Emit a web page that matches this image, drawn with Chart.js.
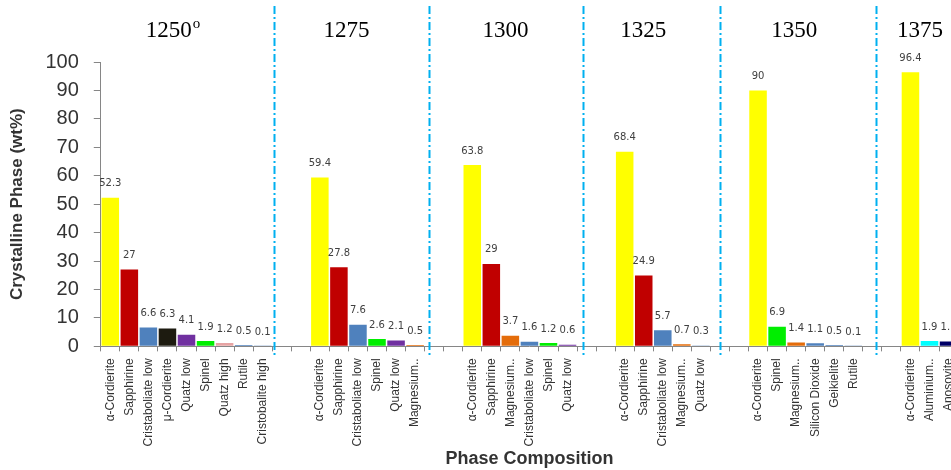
<!DOCTYPE html>
<html>
<head>
<meta charset="utf-8">
<script src="https://cdn.jsdelivr.net/npm/chart.js@4"></script>
<style>
  html, body { margin: 0; padding: 0; background: #fff; overflow: hidden; }
  #wrap { position: relative; width: 970px; height: 470px; }
</style>
</head>
<body>
<div id="wrap"><canvas id="myChart"></canvas></div>
<script>

// Phase data per firing temperature

const temps = ['1250', '1275', '1300', '1325', '1350', '1375'];

const phases1250 = ['α-Cordierite', 'Sapphirine', 'Cristaboliate low', 'μ-Cordierite', 'Quatz low', 'Spinel', 'Quatz high', 'Rutile', 'Cristobalite high'];
const values1250 = [52.3, 27, 6.6, 6.3, 4.1, 1.9, 1.2, 0.5, 0.1];

const phases1275 = ['α-Cordierite', 'Sapphirine', 'Cristaboliate low', 'Spinel', 'Quatz low', 'Magnesium..'];
const values1275 = [59.4, 27.8, 7.6, 2.6, 2.1, 0.5];

const phases1300 = ['α-Cordierite', 'Sapphirine', 'Magnesium..', 'Cristaboliate low', 'Spinel', 'Quatz low'];
const values1300 = [63.8, 29, 3.7, 1.6, 1.2, 0.6];

const phases1325 = ['α-Cordierite', 'Sapphirine', 'Cristaboliate low', 'Magnesium..', 'Quatz low'];
const values1325 = [68.4, 24.9, 5.7, 0.7, 0.3];

const phases1350 = ['α-Cordierite', 'Spinel', 'Magnesium..', 'Silicon Dioxide', 'Geikielite', 'Rutile'];
const values1350 = [90, 6.9, 1.4, 1.1, 0.5, 0.1];

const phases1375 = ['α-Cordierite', 'Aluminium..', 'Anosovite'];
const values1375 = [96.4, 1.9, 1.7];

// bar colours
const colors1250 = ['#ffff00', '#c00000', '#4f81bd', '#1d1b10', '#7030a0', '#00ee00', '#e6a3a3', '#4f81bd', '#4f81bd'];
const colors1275 = ['#ffff00', '#c00000', '#4f81bd', '#00ee00', '#7030a0', '#e46c0a'];
const colors1300 = ['#ffff00', '#c00000', '#e46c0a', '#4f81bd', '#00ee00', '#7030a0'];
const colors1325 = ['#ffff00', '#c00000', '#4f81bd', '#e46c0a', '#4f81bd'];
const colors1350 = ['#ffff00', '#00ee00', '#e46c0a', '#4f81bd', '#4f81bd', '#4f81bd'];
const colors1375 = ['#ffff00', '#00ffff', '#000066'];

const groupPhases = [phases1250, phases1275, phases1300, phases1325, phases1350, phases1375];
const groupValues = [values1250, values1275, values1300, values1325, values1350, values1375];
const groupColors = [colors1250, colors1275, colors1300, colors1325, colors1350, colors1375];

// header and divider placement, in slot units from the left of the x axis
const headerAt = [3.57, 12.9, 21.24, 28.47, 36.4, 43.0];
const dividerAt = [9.07, 17.25, 25.31, 32.5, 40.68];

// Flatten groups into one category axis, two empty slots between groups

const labels = [];
const values = [];
const colors = [];

groupPhases.forEach((list, g) => {
    list.forEach((name, i) => {
        labels.push(name);
        values.push(groupValues[g][i]);
        colors.push(groupColors[g][i]);
    });
    if (g < groupPhases.length - 1) {
        for (let k = 0; k < 2; k++) {
            labels.push('');
            values.push(null);
            colors.push('#fff');
        }
    }
});

// value above every bar
const valueLabels = {
    id: 'valueLabels',
    afterDatasetsDraw(chart) {
        const ctx = chart.ctx;
        const meta = chart.getDatasetMeta(0);
        ctx.save();
        ctx.font = "10px 'DejaVu Sans'";
        ctx.fillStyle = '#404040';
        ctx.textAlign = 'center';
        ctx.textBaseline = 'bottom';
        meta.data.forEach((bar, i) => {
            const v = values[i];
            if (v === null) return;
            ctx.fillText(String(v), bar.x, bar.y - 9);
        });
        ctx.restore();
    }
};

// temperature headers and dash-dot dividers
const groupDecor = {
    id: 'groupDecor',
    afterDraw(chart) {
        const ctx = chart.ctx;
        const xs = chart.scales.x;
        const slot = xs.width / labels.length;
        ctx.save();

        ctx.strokeStyle = '#00b0f0';
        ctx.lineWidth = 2;
        ctx.setLineDash([8, 3, 2, 3]);
        dividerAt.forEach(s => {
            const x = Math.round(xs.left + s * slot) + 0.5;
            ctx.beginPath();
            ctx.moveTo(x, 6);
            ctx.lineTo(x, 358);
            ctx.stroke();
        });
        ctx.setLineDash([]);

        ctx.fillStyle = '#000';
        ctx.textBaseline = 'middle';
        ctx.textAlign = 'center';
        temps.forEach((t, g) => {
            const x = xs.left + headerAt[g] * slot;
            ctx.font = "23px 'Liberation Serif'";
            ctx.fillText(t, x, 31);
            if (g === 0) {
                const w = ctx.measureText(t).width;
                ctx.font = "15px 'Liberation Serif'";
                ctx.textAlign = 'left';
                ctx.fillText('o', x + w / 2 + 1, 24);
                ctx.textAlign = 'center';
            }
        });
        ctx.restore();
    }
};

const ctx = document.getElementById('myChart');

const myChart = new Chart(ctx, {
    type: 'bar',
    data: {
        labels: labels,
        datasets: [{
            data: values,
            backgroundColor: colors,
            borderWidth: 0,
            barPercentage: 0.92,
            categoryPercentage: 1
        }]
    },
    options: {
        responsive: true,
        maintainAspectRatio: false,
        animation: false,
        layout: {
            padding: { top: 62, right: 4, left: 7, bottom: 0 }
        },
        plugins: {
            legend: { display: false },
            tooltip: { enabled: false }
        },
        scales: {
            x: {
                offset: true,
                grid: {
                    display: true,
                    drawOnChartArea: false,
                    offset: true,
                    tickLength: 5,
                    color: '#868686'
                },
                border: { color: '#868686' },
                ticks: {
                    autoSkip: false,
                    minRotation: 90,
                    maxRotation: 90,
                    padding: 7,
                    color: '#333',
                    font: { family: "'Liberation Sans'", size: 12 }
                },
                title: {
                    display: true,
                    text: 'Phase Composition',
                    color: '#333',
                    padding: { top: -5, bottom: 0 },
                    font: { family: "'Liberation Sans'", size: 18, weight: 'bold' }
                }
            },
            y: {
                min: 0,
                max: 100,
                ticks: {
                    stepSize: 10,
                    padding: 15,
                    color: '#333',
                    font: { family: "'Liberation Sans'", size: 20 }
                },
                grid: {
                    display: true,
                    drawOnChartArea: false,
                    tickLength: 7,
                    color: '#868686'
                },
                border: { color: '#868686' },
                title: {
                    display: true,
                    text: 'Crystalline Phase (wt%)',
                    color: '#333',
                    padding: { top: 0, bottom: 3 },
                    font: { family: "'Liberation Sans'", size: 17, weight: 'bold' }
                }
            }
        }
    },
    plugins: [valueLabels, groupDecor]
});

</script>
</body>
</html>
